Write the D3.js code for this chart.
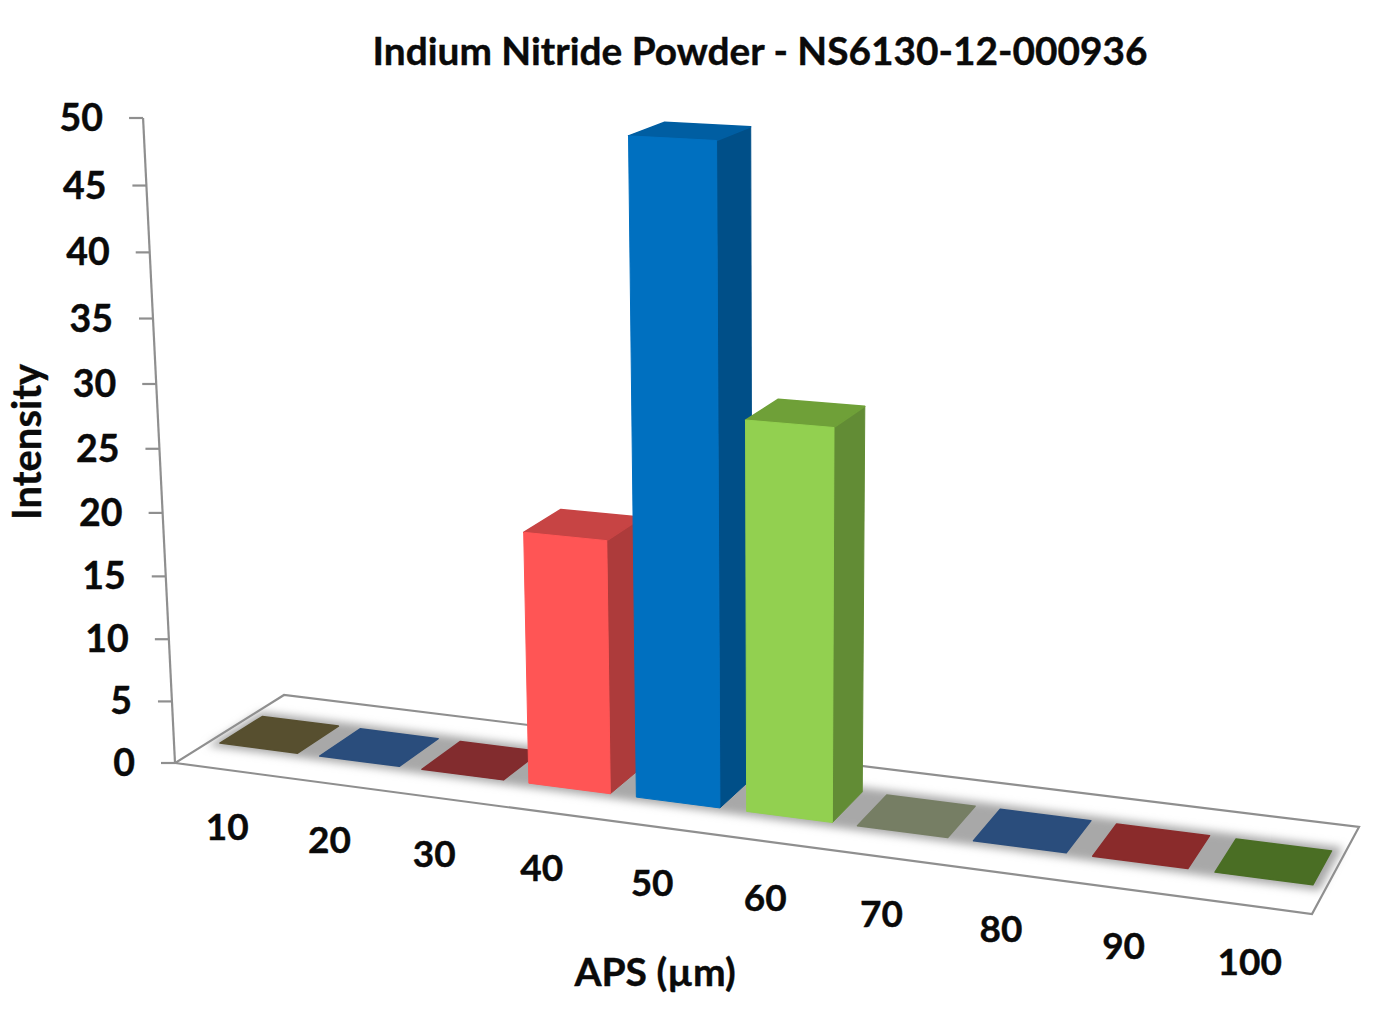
<!DOCTYPE html>
<html>
<head>
<meta charset="utf-8">
<script src="https://cdn.jsdelivr.net/npm/d3@7"></script>
<style>
  html, body { margin: 0; padding: 0; background: #fff; }
  text { font-family: Lato, "Open Sans", sans-serif; font-weight: 700; fill: #0a0a0a; stroke: #0a0a0a; stroke-width: 0.4; }
</style>
</head>
<body>
<div id="chart"></div>
<script>
var categories = [10, 20, 30, 40, 50, 60, 70, 80, 90, 100];
var intensity = [0, 0, 0, 19.7, 49.7, 29.7, 0, 0, 0, 0];
var frontColors = ['#574f2f', '#2a4d7c', '#822c2e', '#ff5555', '#0070c0', '#92d050', '#767e64', '#2a4d7c', '#8a2b2b', '#4a6e24'];
var sideColors = ['#574f2f', '#2a4d7c', '#822c2e', '#ad3b3b', '#004f88', '#628c35', '#767e64', '#2a4d7c', '#8a2b2b', '#4a6e24'];
var topColors = ['#574f2f', '#2a4d7c', '#822c2e', '#c74444', '#005ea2', '#6fa038', '#767e64', '#2a4d7c', '#8a2b2b', '#4a6e24'];

var titleText = 'Indium Nitride Powder - NS6130-12-000936';
var xTitle = 'APS (µm)';
var yTitle = 'Intensity';

var width = 1380, height = 1024;

// floor corners on screen: front left, front right, back right, back left
var floorCorners = [[175, 763], [1312, 914], [1359, 827], [284, 695]];
var vanishing = [781, 13000];   // vertical lines meet far below the chart

var svg = d3.select('#chart').append('svg')
  .attr('width', width)
  .attr('height', height)
  .style('display', 'block');

var defs = svg.append('defs');
defs.append('filter').attr('id', 'soft')
  .attr('x', '-5%').attr('y', '-30%').attr('width', '110%').attr('height', '160%')
  .append('feGaussianBlur').attr('stdDeviation', 4.5);

// square to quad mapping for the floor
var m = (function (q) {
  var sx = q[0][0] - q[1][0] + q[2][0] - q[3][0], sy = q[0][1] - q[1][1] + q[2][1] - q[3][1];
  var dx1 = q[1][0] - q[2][0], dx2 = q[3][0] - q[2][0];
  var dy1 = q[1][1] - q[2][1], dy2 = q[3][1] - q[2][1];
  var det = dx1 * dy2 - dx2 * dy1;
  var g = (sx * dy2 - dx2 * sy) / det, h = (dx1 * sy - sx * dy1) / det;
  return {
    a: q[1][0] - q[0][0] + g * q[1][0], b: q[3][0] - q[0][0] + h * q[3][0], c: q[0][0],
    d: q[1][1] - q[0][1] + g * q[1][1], e: q[3][1] - q[0][1] + h * q[3][1], f: q[0][1],
    g: g, h: h
  };
})(floorCorners);

var xScale = d3.scaleBand().domain(categories).range([0, 1]).paddingInner(0.22).paddingOuter(0.11);
var depthScale = d3.scaleLinear().domain([0, 1]).range([0.30, 0.69]);   // row of bars inside the floor
var yScale = d3.scaleLinear().domain([0, 50]).range([0, -0.05007]);     // perspective weight of a height

// u along the floor, d into the floor, v chart value
function project(u, d, v) {
  var t = yScale(v);
  var w = m.g * u + m.h * d + 1 + t;
  return [
    (m.a * u + m.b * d + m.c + t * vanishing[0]) / w,
    (m.d * u + m.e * d + m.f + t * vanishing[1]) / w
  ];
}

var line = d3.line();
function poly(points) { return line(points) + 'Z'; }

// floor
var floorPath = poly([project(0, 0, 0), project(1, 0, 0), project(1, 1, 0), project(0, 1, 0)]);
svg.append('path').attr('d', floorPath).attr('fill', '#fff');

// blurred shadow under the row
svg.append('path')
  .attr('d', poly([
    project(0.004, depthScale(-0.13), 0), project(0.996, depthScale(-0.13), 0),
    project(0.996, depthScale(1.14), 0), project(0.004, depthScale(1.14), 0)
  ]))
  .attr('fill', '#a8a8a8')
  .attr('filter', 'url(#soft)');

svg.append('path').attr('d', floorPath)
  .attr('fill', 'none').attr('stroke', '#8f8f8f').attr('stroke-width', 2.2);

// y axis
svg.append('path')
  .attr('d', line([project(0, 0, 0), project(0, 0, 50)]))
  .attr('fill', 'none').attr('stroke', '#8f8f8f').attr('stroke-width', 2.2);

var yTicks = svg.append('g').selectAll('g').data(yScale.ticks(10)).join('g')
  .attr('transform', function (d) { var p = project(0, 0, d); return 'translate(' + p[0] + ',' + p[1] + ')'; });
yTicks.append('line').attr('x1', -14).attr('x2', 0)
  .attr('stroke', '#8f8f8f').attr('stroke-width', 2.2);
yTicks.append('text').attr('x', -40).attr('y', 13)
  .attr('text-anchor', 'end').attr('font-size', 37.5)
  .text(function (d) { return d; });

// bars, left to right so the nearer side overlaps
var bars = svg.append('g').selectAll('g').data(categories).join('g');

bars.each(function (cat, i) {
  var g = d3.select(this), v = intensity[i];
  var u1 = xScale(cat) + xScale.bandwidth();
  var u0 = xScale(cat) + (v > 0 ? 0.002 : 0);
  var d0 = depthScale(0), d1 = depthScale(1);

  if (v > 0) {
    g.append('path')
      .attr('d', poly([project(u1, d0, 0), project(u1, d1, 0), project(u1, d1, v), project(u1, d0, v)]))
      .attr('fill', sideColors[i]).attr('stroke', sideColors[i]).attr('stroke-linejoin', 'round');
  }
  g.append('path')
    .attr('d', poly([project(u0, d0, v), project(u1, d0, v), project(u1, d1, v), project(u0, d1, v)]))
    .attr('fill', topColors[i]).attr('stroke', topColors[i]).attr('stroke-width', 1.5).attr('stroke-linejoin', 'round');
  if (v > 0) {
    g.append('path')
      .attr('d', poly([project(u0, d0, 0), project(u1, d0, 0), project(u1, d0, v), project(u0, d0, v)]))
      .attr('fill', frontColors[i]).attr('stroke', frontColors[i]).attr('stroke-linejoin', 'round');
  }
});

// category labels follow the front edge of the floor
svg.append('g').selectAll('text').data(categories).join('text')
  .attr('transform', function (d) {
    var p = project(xScale(d) + xScale.bandwidth() / 2, 0, 0);
    return 'translate(' + (p[0] + 2) + ',' + (p[1] + 70) + ')';
  })
  .attr('text-anchor', 'middle').attr('font-size', 37)
  .text(function (d) { return d; });

svg.append('text').attr('x', 760).attr('y', 65)
  .attr('text-anchor', 'middle').attr('font-size', 38.8)
  .text(titleText);

svg.append('text').attr('x', 655).attr('y', 986)
  .attr('text-anchor', 'middle').attr('font-size', 39)
  .text(xTitle);

svg.append('text')
  .attr('transform', 'translate(41,442) rotate(-90)')
  .attr('text-anchor', 'middle').attr('font-size', 40)
  .text(yTitle);
</script>
</body>
</html>
